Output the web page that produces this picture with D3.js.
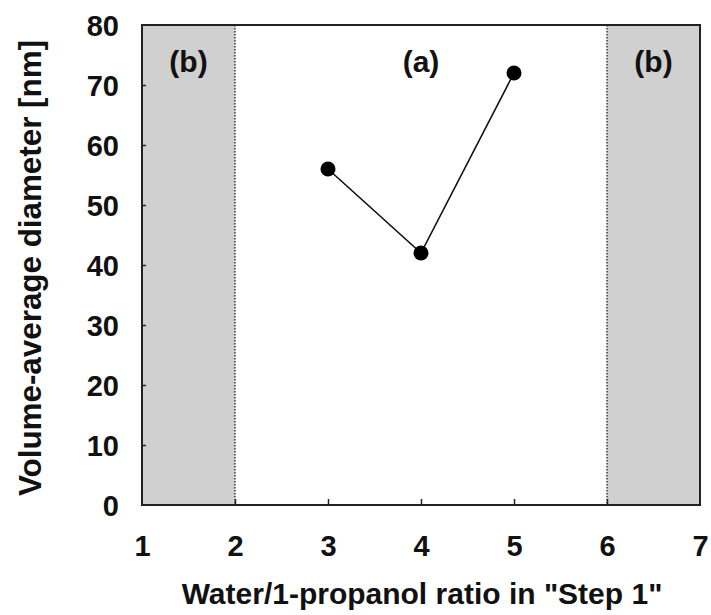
<!DOCTYPE html>
<html>
<head>
<meta charset="utf-8">
<script src="https://cdn.jsdelivr.net/npm/d3@7"></script>
<style>
  body { margin: 0; background: #fff; }
  text { font-family: 'Liberation Sans', Arial, sans-serif; font-weight: bold; fill: #111; }
</style>
</head>
<body>
<svg class="chart" width="711" height="615"></svg>
<script>
// data
const ratios = [3, 4, 5];
const diameters = [56, 42, 72];
const xTicks = [1, 2, 3, 4, 5, 6, 7];
const yTicks = [0, 10, 20, 30, 40, 50, 60, 70, 80];
const regions = [
  { from: 1, to: 2, label: '(b)', shade: true },
  { from: 2, to: 6, label: '(a)', shade: false },
  { from: 6, to: 7, label: '(b)', shade: true }
];

function drawChart(){
  const svg = d3.select('svg.chart');
  const margin = { left: 142, top: 25, right: 11, bottom: 110 };
  const width = 711 - margin.left - margin.right;
  const height = 615 - margin.top - margin.bottom;

  const x = d3.scaleLinear().domain([1, 7]).range([0, width]);
  const y = d3.scaleLinear().domain([0, 80]).range([height, 0]);

  const g = svg.append('g')
      .attr('transform', `translate(${margin.left}, ${margin.top})`);

  // shaded side regions
  g.selectAll('rect.region')
    .data(regions.filter(d => d.shade))
    .enter()
    .append('rect')
    .attr('class', 'region')
    .attr('x', d => x(d.from))
    .attr('y', 0)
    .attr('width', d => x(d.to) - x(d.from))
    .attr('height', height)
    .style('fill', '#d0d0d0');

  // dotted boundaries
  g.selectAll('line.bound')
    .data([2, 6])
    .enter()
    .append('line')
    .attr('class', 'bound')
    .attr('x1', d => x(d))
    .attr('x2', d => x(d))
    .attr('y1', 0)
    .attr('y2', height)
    .style('stroke', '#222')
    .style('stroke-width', 1.3)
    .style('stroke-dasharray', '1.5,1.5');

  // region labels
  g.selectAll('text.regionLabel')
    .data(regions)
    .enter()
    .append('text')
    .attr('class', 'regionLabel')
    .attr('x', d => x((d.from + d.to) / 2))
    .attr('y', 72 - margin.top)
    .attr('text-anchor', 'middle')
    .style('font-size', '30px')
    .text(d => d.label);

  // axes with inward ticks
  const xAxis = d3.axisBottom(x).tickValues(xTicks).tickSize(-6).tickFormat(d3.format('d'));
  const yAxis = d3.axisLeft(y).tickValues(yTicks).tickSize(-4).tickFormat(d3.format('d'));

  const gx = g.append('g')
      .attr('transform', `translate(0, ${height})`)
      .call(xAxis);
  const gy = g.append('g').call(yAxis);

  [gx, gy].forEach(ax => {
    ax.select('.domain').remove();
    ax.selectAll('.tick line').style('stroke', '#222').style('stroke-width', 1.5);
    ax.selectAll('.tick text')
      .style('font-size', '29px')
      .style('font-family', "'Liberation Sans', Arial, sans-serif")
      .style('font-weight', 'bold')
      .style('fill', '#111');
  });
  gx.selectAll('.tick text').attr('y', 51).attr('dy', 0);
  gy.selectAll('.tick text').attr('x', -23).attr('dy', '0.36em');
  // hide ticks that sit on the frame edges
  gx.selectAll('.tick line').filter(d => d === 1 || d === 7).remove();
  gy.selectAll('.tick line').filter(d => d === 0 || d === 80).remove();

  // frame
  g.append('rect')
    .attr('x', 0)
    .attr('y', 0)
    .attr('width', width)
    .attr('height', height)
    .style('fill', 'none')
    .style('stroke', '#222')
    .style('stroke-width', 2);

  // series
  const pts = ratios.map((r, i) => ({ r, d: diameters[i] }));
  const line = d3.line().x(d => x(d.r)).y(d => y(d.d));

  g.append('path')
    .datum(pts)
    .attr('d', line)
    .style('fill', 'none')
    .style('stroke', '#111')
    .style('stroke-width', 1.6);

  g.selectAll('circle.pt')
    .data(pts)
    .enter()
    .append('circle')
    .attr('class', 'pt')
    .attr('cx', d => x(d.r))
    .attr('cy', d => y(d.d))
    .attr('r', 7.5)
    .style('fill', '#000');

  // axis titles
  svg.append('text')
    .attr('x', margin.left + width / 2 + 1)
    .attr('y', 604)
    .attr('text-anchor', 'middle')
    .style('font-size', '30px')
    .text('Water/1-propanol ratio in "Step 1"');

  svg.append('text')
    .attr('transform', `translate(41, 268) rotate(-90)`)
    .attr('text-anchor', 'middle')
    .style('font-size', '31px')
    .attr('textLength', 456)
    .attr('lengthAdjust', 'spacingAndGlyphs')
    .text('Volume-average diameter [nm]');
}

drawChart();
</script>
</body>
</html>
